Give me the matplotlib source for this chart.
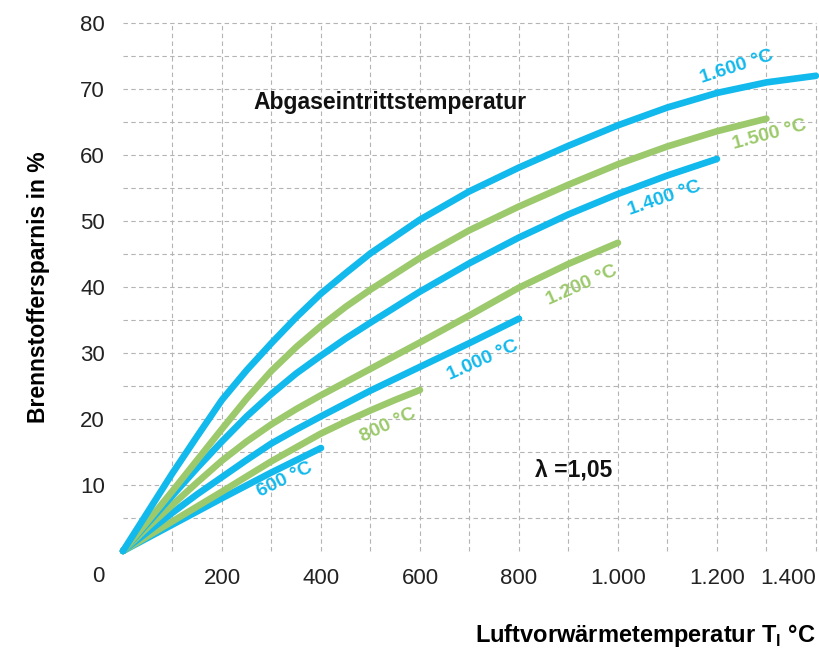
import matplotlib
matplotlib.use("Agg")
from matplotlib import pyplot as plt
import numpy as np

plt.rcParams['font.family'] = ['Liberation Sans', 'DejaVu Sans']
plt.rcParams['mathtext.fontset'] = 'custom'
plt.rcParams['mathtext.rm'] = 'Liberation Sans:bold'

BLUE = '#12b9ec'
GREEN = '#9cc96b'

# air preheat temperature (x) vs fuel saving (y), one pair per flue gas temperature
x_1600 = [0, 50, 100, 150, 200, 250, 300, 350, 400, 450, 500, 600, 700, 800, 900, 1000, 1100, 1200, 1300, 1400]
y_1600 = [0, 5.9, 11.8, 17.4, 22.9, 27.4, 31.5, 35.4, 39.0, 42.1, 45.1, 50.2, 54.5, 58.1, 61.4, 64.5, 67.2, 69.4, 71.0, 72.0]

x_1500 = [0, 50, 100, 150, 200, 250, 300, 350, 400, 450, 500, 600, 700, 800, 900, 1000, 1100, 1200, 1300]
y_1500 = [0, 4.5, 9.1, 13.8, 18.5, 23.1, 27.3, 30.9, 34.1, 37.0, 39.6, 44.4, 48.6, 52.2, 55.5, 58.6, 61.3, 63.6, 65.5]

x_1400 = [0, 50, 100, 150, 200, 250, 300, 350, 400, 450, 500, 600, 700, 800, 900, 1000, 1100, 1200]
y_1400 = [0, 4.2, 8.4, 12.6, 16.6, 20.4, 23.8, 26.9, 29.6, 32.2, 34.6, 39.3, 43.6, 47.5, 51.0, 54.1, 56.9, 59.4]

x_1200 = [0, 50, 100, 150, 200, 250, 300, 350, 400, 500, 600, 700, 800, 900, 1000]
y_1200 = [0, 3.6, 7.0, 10.4, 13.7, 16.6, 19.2, 21.5, 23.6, 27.6, 31.6, 35.7, 39.9, 43.5, 46.7]

x_1000 = [0, 50, 100, 150, 200, 250, 300, 350, 400, 500, 600, 700, 800]
y_1000 = [0, 2.9, 5.8, 8.6, 11.2, 13.8, 16.3, 18.4, 20.4, 24.3, 27.9, 31.5, 35.2]

x_800 = [0, 100, 200, 300, 400, 450, 500, 550, 600]
y_800 = [0, 4.5, 9.0, 13.6, 17.8, 19.6, 21.3, 22.9, 24.4]

x_600 = [0, 100, 200, 300, 400]
y_600 = [0, 4.0, 8.0, 11.9, 15.6]

curve_labels = ['600 °C', '800 °C', '1.000 °C', '1.200 °C', '1.400 °C', '1.500 °C', '1.600 °C']

xticks = [200, 400, 600, 800, 1000, 1200, 1400]
xticklabels = ['200', '400', '600', '800', '1.000', '1.200', '1.400']
yticks = [10, 20, 30, 40, 50, 60, 70, 80]

fig = plt.figure(figsize=(8.2, 6.48), dpi=100)
ax = fig.add_axes([0.15, 0.1497, 0.845, 0.8148])

# grid
ax.vlines(np.arange(100, 1401, 100), 0, 80, colors='#b4b4b4', linestyles=(0, (4, 3)),
          linewidth=0.8, clip_on=False, zorder=1)
ax.hlines(np.arange(5, 81, 5), 0, 1400, colors='#b4b4b4', linestyles=(0, (4, 3)),
          linewidth=0.8, clip_on=False, zorder=1)

series = [(x_600, y_600, BLUE), (x_800, y_800, GREEN), (x_1000, y_1000, BLUE),
          (x_1200, y_1200, GREEN), (x_1400, y_1400, BLUE), (x_1500, y_1500, GREEN),
          (x_1600, y_1600, BLUE)]
for xs, ys, c in series:
    ax.plot(xs, ys, color=c, lw=4.8, solid_capstyle='round', solid_joinstyle='round',
            clip_on=False, zorder=3)

# curve labels
label_pos = [(327, 10.8, 26), (535, 19.1, 25), (727, 28.9, 24), (927, 40.3, 24),
             (1095, 53.5, 19), (1307, 63.0, 15), (1240, 73.3, 18)]
for (lx, ly, rot), txt, (_, _, c) in zip(label_pos, curve_labels, series):
    ax.text(lx, ly, txt, color=c, rotation=rot, ha='center', va='center',
            fontsize=14, fontweight='bold', rotation_mode='anchor', zorder=4)

ax.text(539, 67.9, 'Abgaseintrittstemperatur', ha='center', va='center',
        fontsize=16.5, fontweight='bold', color='#111111')
ax.text(832, 12.3, 'λ =1,05', ha='left', va='center', fontsize=16.5,
        fontweight='bold', color='#111111')

ax.set_xlim(0, 1400)
ax.set_ylim(0, 80)
for s in ax.spines.values():
    s.set_visible(False)

ax.set_xticks(xticks)
ax.set_xticklabels(xticklabels)
ax.set_yticks(yticks)
ax.tick_params(length=0, labelsize=16, colors='#222222')
ax.tick_params(axis='x', pad=12)
ax.tick_params(axis='y', pad=13)
lbls = ax.get_xticklabels()
lbls[-1].set_horizontalalignment('right')
ax.text(-50, -3.9, '0', ha='center', va='center', fontsize=16, color='#222222', clip_on=False)

ax.set_ylabel('Brennstoffersparnis in %', fontsize=16.5, fontweight='bold', labelpad=22)
fig.text(0.995, 0.02, r'Luftvorwärmetemperatur T$_\mathregular{l}$ °C', ha='right',
         va='center', fontsize=17, fontweight='bold')

fig.savefig('out.png', dpi=100)
